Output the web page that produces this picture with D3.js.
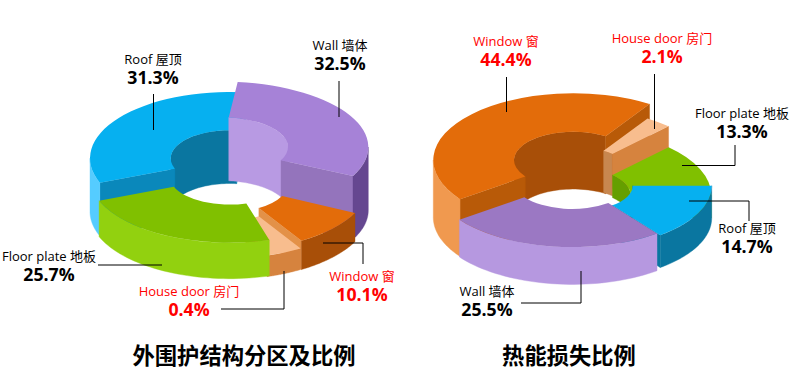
<!DOCTYPE html>
<html>
<head>
<meta charset="utf-8">
<script src="https://cdn.jsdelivr.net/npm/d3@7"></script>
<style>
  body { margin: 0; background: #fff; }
  text { font-family: "Open Sans", "Noto Sans CJK SC", sans-serif; }
</style>
</head>
<body>
<div id="chart"></div>
<script>
// data
const envelopeNames = ["Wall 墙体", "Window 窗", "House door 房门", "Floor plate 地板", "Roof 屋顶"];
const envelopeValues = [32.5, 10.1, 0.4, 25.7, 31.3];
// the slices are not drawn to scale (door is much wider), so sweep is kept apart from the labels
const envelopeSweep = [110, 32, 15, 85, 118];

const lossNames = ["Window 窗", "House door 房门", "Floor plate 地板", "Roof 屋顶", "Wall 墙体"];
const lossValues = [44.4, 2.1, 13.3, 14.7, 25.5];
const lossSweep = [159, 11, 46, 52.6, 91.4];

const chartTitles = ["外围护结构分区及比例", "热能损失比例"];

// shape of every slice: centre of its top face, radii, thickness
const envelopeShape = [
  { cx: 221.3, cy: 147, R: 147, r: 66.7, k: 0.445, h: 63.3, top: "#a682d7", side: "#654790", inner: "#b89ae3", cut: "#9474bc" },
  { cx: 226, cy: 182.7, R: 144, r: 62.7, k: 0.474, h: 28.7, top: "#e36c0a", side: "#a84f08", inner: "#a84f08", cut: "#e39148" },
  { cx: 227.3, cy: 192, R: 140, r: 60, k: 0.474, h: 21, top: "#f8bd8e", side: "#d6833e", inner: "#d6833e", cut: "#d6833e" },
  { cx: 229.3, cy: 176.3, R: 140, r: 59.7, k: 0.474, h: 36, top: "#80c000", side: "#92d10f", inner: "#659f00", cut: "#659f00" },
  { cx: 230, cy: 158.3, R: 140, r: 59.3, k: 0.474, h: 53.3, top: "#06b0f0", side: "#55ccff", inner: "#0a76a0", cut: "#0a88bb" }
];
const lossShape = [
  { cx: 573.3, cy: 160, R: 140, r: 59.3, k: 0.476, h: 57.3, top: "#e36c0a", side: "#f0994f", inner: "#a84f08", cut: "#b85a08" },
  { cx: 571.3, cy: 174.3, R: 140, r: 59.3, k: 0.476, h: 42, top: "#f8bd8e", side: "#d6833e", inner: "#c8874f", cut: "#d6833e" },
  { cx: 571.3, cy: 195.3, R: 140, r: 59.3, k: 0.476, h: 22.7, top: "#80c000", side: "#92d10f", inner: "#659f00", cut: "#659f00" },
  { cx: 580.7, cy: 185.7, R: 131, r: 52, k: 0.476, h: 32.3, top: "#06b0f0", side: "#0a76a0", inner: "#0a76a0", cut: "#0a76a0" },
  { cx: 572.3, cy: 180.7, R: 139.5, r: 59.3, k: 0.476, h: 37.3, top: "#9b78c3", side: "#b698e0", inner: "#9b78c3", cut: "#9b78c3" }
];

// back to front, the slices overlap each other
const envelopeOrder = [4, 0, 1, 2, 3];
const lossOrder = [0, 1, 2, 3, 4];

// label position (centre of text) and leader polyline for each slice
const envelopeNotes = [
  { x: 340, y: 50, red: false, leader: [[339, 81], [339, 117]] },
  { x: 362, y: 281, red: true, leader: [[323, 243], [363, 243], [363, 264]] },
  { x: 189, y: 296, red: true, leader: [[221, 309], [284, 309], [284, 271]] },
  { x: 49, y: 261, red: false, leader: [[98, 265], [162, 265]] },
  { x: 153, y: 64, red: false, leader: [[153.5, 94], [153.5, 130]] }
];
const lossNotes = [
  { x: 506, y: 46, red: true, leader: [[506.5, 77], [506.5, 112]] },
  { x: 662, y: 43, red: true, leader: [[654.5, 74], [654.5, 129]] },
  { x: 742, y: 118, red: false, leader: [[735, 145], [735, 165.5], [682, 165.5]] },
  { x: 747, y: 233, red: false, leader: [[689, 201], [749, 201], [749, 221]] },
  { x: 487, y: 296, red: false, leader: [[521, 303], [581, 303], [581, 271]] }
];

const svg = d3.select("#chart").append("svg")
  .attr("width", 808)
  .attr("height", 382);

const rad = Math.PI / 180;
const line = d3.line();

// point on the ellipse of a slice, angle measured clockwise from the top
function pt(s, radius, a, drop) {
  return [s.cx + radius * Math.sin(a), s.cy - s.k * radius * Math.cos(a) + drop];
}

// part of [a0, a1] that falls in [lo, hi], also one turn up
function overlap(a0, a1, lo, hi) {
  const out = [];
  [-2 * Math.PI, 0, 2 * Math.PI].forEach(t => {
    const from = Math.max(a0, lo + t), to = Math.min(a1, hi + t);
    if (to > from) out.push([from, to]);
  });
  return out;
}

function wall(g, s, radius, from, to, color) {
  const angles = d3.range(0, 41).map(i => from + (to - from) * i / 40);
  const upper = angles.map(a => pt(s, radius, a, 0));
  const lower = angles.slice().reverse().map(a => pt(s, radius, a, s.h));
  g.append("path")
    .attr("d", line(upper.concat(lower)) + "Z")
    .attr("fill", color)
    .attr("stroke", color)
    .attr("stroke-width", 0.4);
}

function cutFace(g, s, a, color) {
  const pts = [pt(s, s.r, a, 0), pt(s, s.R, a, 0), pt(s, s.R, a, s.h), pt(s, s.r, a, s.h)];
  g.append("path").attr("d", line(pts) + "Z").attr("fill", color)
    .attr("stroke", color).attr("stroke-width", 0.4);
}

function drawDonut(sweep, startDeg, shape, order) {
  const arcs = d3.pie().sortValues(null)
    .startAngle(startDeg * rad)
    .endAngle(startDeg * rad + 2 * Math.PI)(sweep);

  order.forEach(i => {
    const d = arcs[i];
    const s = shape[i];
    const g = svg.append("g");
    const a0 = d.startAngle, a1 = d.endAngle;

    // faces are drawn only when they turn towards the viewer
    overlap(a0, a1, -Math.PI / 2, Math.PI / 2).forEach(p => wall(g, s, s.r, p[0], p[1], s.inner));
    if (Math.sin(a0) < 0) cutFace(g, s, a0, s.cut);
    if (Math.sin(a1) > 0) cutFace(g, s, a1, s.cut);
    overlap(a0, a1, Math.PI / 2, 1.5 * Math.PI).forEach(p => wall(g, s, s.R, p[0], p[1], s.side));

    // top face
    g.append("path")
      .attr("transform", "translate(" + s.cx + "," + s.cy + ") scale(1," + s.k + ")")
      .attr("d", d3.arc().innerRadius(s.r).outerRadius(s.R)(d))
      .attr("fill", s.top);
  });
}

function drawNotes(names, values, notes) {
  notes.forEach((n, i) => {
    const color = n.red ? "#ff0000" : "#000";
    svg.append("path")
      .attr("d", line(n.leader))
      .attr("fill", "none")
      .attr("stroke", "#000")
      .attr("stroke-width", 1);
    // one label with two lines
    const label = svg.append("text")
      .attr("text-anchor", "middle")
      .attr("fill", color);
    label.append("tspan")
      .attr("x", n.x).attr("y", n.y)
      .attr("font-size", 13)
      .text(names[i]);
    label.append("tspan")
      .attr("x", n.x).attr("y", n.y + 20)
      .attr("font-size", 17.7)
      .attr("font-weight", "bold")
      .text(values[i].toFixed(1) + "%");
  });
}

drawDonut(envelopeSweep, 6.4, envelopeShape, envelopeOrder);
drawDonut(lossSweep, 234, lossShape, lossOrder);
drawNotes(envelopeNames, envelopeValues, envelopeNotes);
drawNotes(lossNames, lossValues, lossNotes);

// titles
[244, 569].forEach((x, i) => {
  svg.append("text")
    .attr("x", x).attr("y", 364)
    .attr("text-anchor", "middle")
    .attr("font-size", 22.3)
    .attr("font-weight", "bold")
    .style("font-family", '"Noto Sans CJK SC"')
    .text(chartTitles[i]);
});
</script>
</body>
</html>
